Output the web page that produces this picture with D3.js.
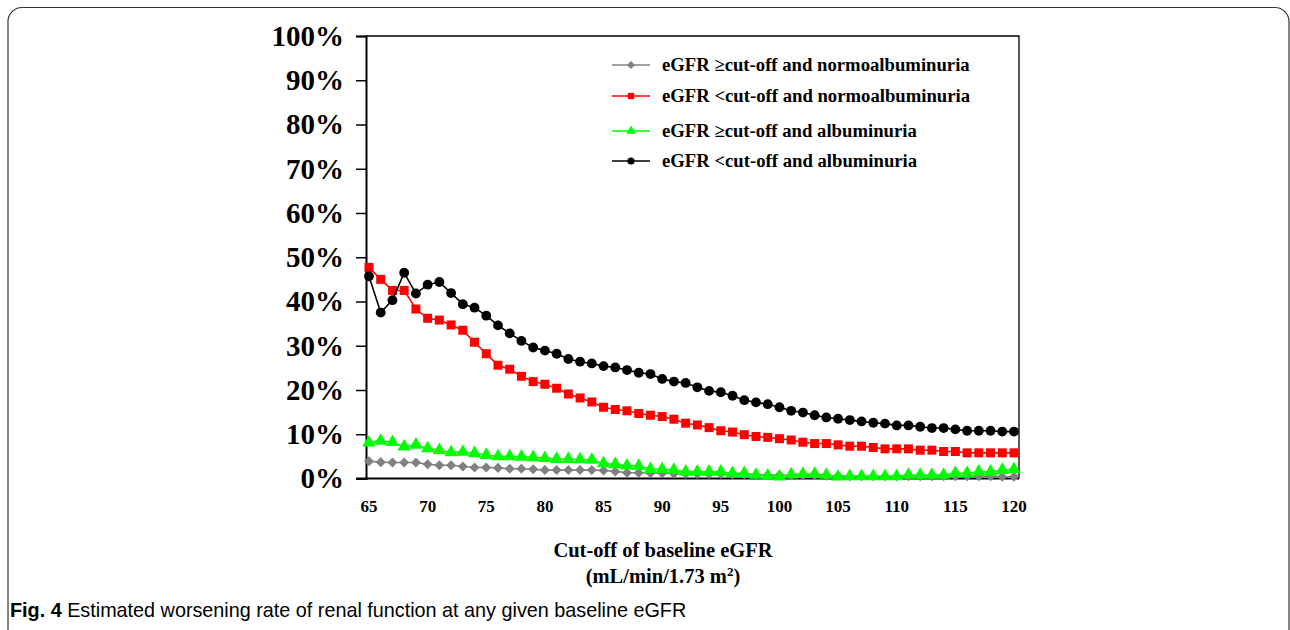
<!DOCTYPE html>
<html>
<head>
<meta charset="utf-8">
<script src="https://cdn.jsdelivr.net/npm/d3@7"></script>
<style>
  body { margin: 0; background: #fff; }
  svg text { fill: #000; }
  .serif { font-family: "Liberation Serif", "Times New Roman", serif; font-weight: bold; }
  .caption { font-family: "Liberation Sans Narrow", "Liberation Sans", sans-serif; font-size: 19.8px; }
</style>
</head>
<body>
<div id="chart"></div>
<script>
'use strict';

// Cut-off values on the x axis (mL/min/1.73 m2)
const cutoffs = d3.range(65, 121);
const xTicks = d3.range(65, 121, 5);
const yTicks = d3.range(0, 101, 10);

// Series values (%), one value per cut-off
const geNormo = [
  3.9, 3.7, 3.6, 3.6, 3.6, 3.2, 3.0, 3.0, 2.7, 2.5, 2.5, 2.4, 2.2, 2.2, 2.1, 1.9, 1.9, 1.9, 1.9,
  1.9, 1.8, 1.6, 1.3, 1.3, 1.2, 1.2, 1.1, 1.1, 1.0, 1.0, 1.0, 0.9, 0.9, 0.8, 0.8, 0.8,
  0.7, 0.7, 0.7, 0.6, 0.6, 0.5, 0.5, 0.5, 0.5, 0.5, 0.5, 0.5, 0.5, 0.5, 0.5, 0.5, 0.5, 0.5, 0.4, 0.4
];
const ltNormo = [
  47.7, 45.0, 42.5, 42.5, 38.3, 36.2, 35.8, 34.7, 33.5, 30.8, 28.2, 25.6, 24.7, 23.1, 21.9, 21.3, 20.4, 19.1, 18.2,
  17.3, 16.1, 15.6, 15.3, 14.7, 14.3, 14.0, 13.4, 12.5, 12.1, 11.5, 10.8, 10.5, 9.9, 9.5, 9.3, 9.0,
  8.7, 8.2, 7.9, 7.9, 7.6, 7.3, 7.3, 7.0, 6.7, 6.7, 6.7, 6.4, 6.4, 6.1, 6.1, 5.8, 5.8, 5.8, 5.8, 5.8
];
const geAlb = [
  8.1, 8.5, 8.2, 7.2, 7.6, 6.8, 6.4, 5.9, 6.0, 5.7, 5.3, 5.0, 5.0, 4.9, 4.8, 4.6, 4.4, 4.4, 4.3,
  4.2, 3.4, 3.2, 2.9, 2.8, 2.1, 2.1, 1.9, 1.5, 1.5, 1.5, 1.5, 1.2, 1.2, 0.8, 0.6, 0.4,
  0.9, 1.0, 1.0, 0.8, 0.4, 0.5, 0.5, 0.5, 0.5, 0.5, 0.8, 0.8, 0.8, 0.8, 1.2, 1.2, 1.5, 1.5, 1.9, 2.1
];
const ltAlb = [
  45.7, 37.5, 40.3, 46.5, 41.8, 43.8, 44.4, 41.9, 39.4, 38.6, 36.8, 34.6, 32.8, 31.1, 29.6, 28.9, 28.2, 27.0, 26.4,
  26.0, 25.4, 25.1, 24.5, 23.9, 23.6, 22.5, 21.9, 21.6, 20.6, 19.8, 19.5, 18.7, 17.7, 17.2, 16.8, 16.1,
  15.3, 14.9, 14.3, 13.8, 13.5, 13.2, 12.9, 12.6, 12.4, 12.0, 12.0, 11.7, 11.4, 11.4, 11.1, 10.8, 10.8, 10.8, 10.6, 10.6
];

const seriesNames = [
  'eGFR \u2265cut-off and normoalbuminuria',
  'eGFR <cut-off and normoalbuminuria',
  'eGFR \u2265cut-off and albuminuria',
  'eGFR <cut-off and albuminuria'
];

const series = [
  { name: seriesNames[0], values: geNormo, color: '#808080', shape: d3.symbolDiamond2, size: 64 },
  { name: seriesNames[1], values: ltNormo, color: '#ff0000', shape: d3.symbolSquare, size: 81 },
  { name: seriesNames[2], values: geAlb,   color: '#00ff00', shape: d3.symbolTriangle, size: 78 },
  { name: seriesNames[3], values: ltAlb,   color: '#000000', shape: d3.symbolCircle, size: 76 }
];

const width = 1290, height = 630;
const plot = { left: 366, right: 1019, top: 36, bottom: 478.5 };

const svg = d3.select('#chart').append('svg')
  .attr('width', width)
  .attr('height', height);

// Rounded figure frame
svg.append('rect')
  .attr('x', 8).attr('y', 7.5)
  .attr('width', 1281).attr('height', 640)
  .attr('rx', 14)
  .attr('fill', 'none')
  .attr('stroke', '#333')
  .attr('stroke-width', 1.2);

const x = d3.scaleLinear().domain([65, 120]).range([369, 1014]);
const y = d3.scaleLinear().domain([0, 100]).range([plot.bottom, plot.top]);

// Plot box (top and right)
svg.append('path')
  .attr('d', `M${plot.left},${plot.top}H${plot.right}V${plot.bottom}`)
  .attr('fill', 'none')
  .attr('stroke', '#000')
  .attr('stroke-width', 1.3);

// Y axis
const yAxis = svg.append('g')
  .attr('transform', `translate(${plot.left},0)`)
  .call(d3.axisLeft(y).tickValues(yTicks).tickFormat(d => d + '%').tickSize(10).tickPadding(12))
  .call(g => g.select('.domain').attr('stroke-width', 2));
yAxis.selectAll('.tick line').attr('stroke-width', 1.5);
yAxis.selectAll('text')
  .attr('class', 'serif')
  .style('font-size', '29px')
  .attr('fill', '#000');

// X axis line and labels (no tick marks)
svg.append('line')
  .attr('x1', 356).attr('x2', plot.right)
  .attr('y1', plot.bottom).attr('y2', plot.bottom)
  .attr('stroke', '#000')
  .attr('stroke-width', 2);

svg.append('g')
  .selectAll('text')
  .data(xTicks)
  .join('text')
  .attr('class', 'serif')
  .attr('x', d => x(d))
  .attr('y', 512)
  .attr('text-anchor', 'middle')
  .style('font-size', '17px')
  .text(d => d);

// Axis title
const xTitle = svg.append('text')
  .attr('class', 'serif')
  .attr('text-anchor', 'middle')
  .style('font-size', '20.5px');
xTitle.append('tspan').attr('x', 663).attr('y', 557).text('Cut-off of baseline eGFR');
const t2 = xTitle.append('tspan').attr('x', 663).attr('y', 583);
t2.append('tspan').text('(mL/min/1.73 m');
t2.append('tspan').attr('dy', -7).style('font-size', '13px').text('2');
t2.append('tspan').attr('dy', 7).text(')');

// Series lines and markers
const line = d3.line()
  .x((d, i) => x(cutoffs[i]))
  .y(d => y(d));

series.forEach(s => {
  const g = svg.append('g');
  g.append('path')
    .datum(s.values)
    .attr('d', line)
    .attr('fill', 'none')
    .attr('stroke', s.color)
    .attr('stroke-width', 1.6);

  g.selectAll('path.marker')
    .data(s.values)
    .join('path')
    .classed('marker', true)
    .attr('transform', (d, i) => `translate(${x(cutoffs[i])},${y(d)})`)
    .attr('d', d3.symbol().type(s.shape).size(s.size))
    .attr('fill', s.color);
});

// Legend
const legendRows = [65, 96, 131, 161];
const legend = svg.append('g');
series.forEach((s, i) => {
  const ly = legendRows[i];
  legend.append('line')
    .attr('x1', 612).attr('x2', 650)
    .attr('y1', ly).attr('y2', ly)
    .attr('stroke', s.color)
    .attr('stroke-width', 1.6);
  legend.append('path')
    .attr('transform', `translate(631,${ly})`)
    .attr('d', d3.symbol().type(s.shape).size(40))
    .attr('fill', s.color);
  legend.append('text')
    .attr('class', 'serif')
    .attr('x', 662)
    .attr('y', ly + 6)
    .style('font-size', '18.7px')
    .text(s.name);
});

// Figure caption
const cap = svg.append('text')
  .attr('class', 'caption')
  .attr('x', 10)
  .attr('y', 617);
cap.append('tspan').style('font-weight', 'bold').text('Fig. 4');
cap.append('tspan').text(' Estimated worsening rate of renal function at any given baseline eGFR');
</script>
</body>
</html>
